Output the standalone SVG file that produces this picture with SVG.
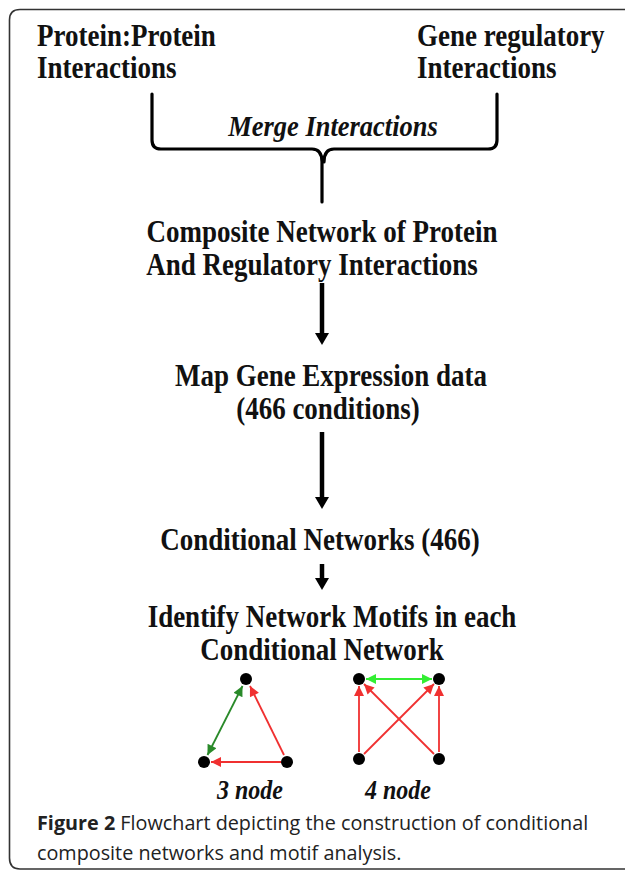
<svg xmlns="http://www.w3.org/2000/svg" width="625" height="871" viewBox="0 0 625 871">
<defs>
<style>
.h{font-family:"Liberation Serif","Times New Roman",serif;font-weight:bold;font-size:27px;fill:#111}
.hi{font-family:"Liberation Serif","Times New Roman",serif;font-weight:bold;font-style:italic;font-size:26.5px;fill:#111}
.ni{font-family:"Liberation Serif","Times New Roman",serif;font-weight:bold;font-style:italic;font-size:24px;fill:#111}
.c{font-family:"Open Sans","Noto Sans",sans-serif;font-size:19.8px;fill:#222}
.frame{fill:none;stroke:#333;stroke-width:1.6}
.br{fill:none;stroke:#000;stroke-width:3.2;stroke-linecap:round;stroke-linejoin:round}
.sh{stroke:#000;stroke-width:4.5}
.hd{fill:#000}
.red{stroke:#f03030;stroke-width:1.8;fill:none}
.dg{stroke:#2a8a2a;stroke-width:1.8;fill:none}
.lg{stroke:#33ee33;stroke-width:1.8;fill:none}
.dot{fill:#000}
</style>
<marker id="mr" viewBox="0 0 10 10" refX="10" refY="5" markerWidth="12" markerHeight="10" markerUnits="userSpaceOnUse" orient="auto-start-reverse"><path d="M0,0 L10,5 L0,10 z" fill="#f03030"/></marker>
<marker id="mdg" viewBox="0 0 10 10" refX="10" refY="5" markerWidth="12" markerHeight="10" markerUnits="userSpaceOnUse" orient="auto-start-reverse"><path d="M0,0 L10,5 L0,10 z" fill="#2a8a2a"/></marker>
<marker id="mlg" viewBox="0 0 10 10" refX="10" refY="5" markerWidth="12" markerHeight="10" markerUnits="userSpaceOnUse" orient="auto-start-reverse"><path d="M0,0 L10,5 L0,10 z" fill="#33ee33"/></marker>
</defs>
<rect width="625" height="871" fill="#fff"/>
<path class="frame" d="M640,9.5 H20 Q9.5,9.5 9.5,20 V858 Q9.5,869 20,869 H640"/>

<g id="ppi"><text class="h" transform="translate(37,46) scale(1,1.15)">Protein:Protein</text><text class="h" transform="translate(37,78) scale(1,1.15)">Interactions</text></g>
<g id="gri"><text class="h" transform="translate(417,46) scale(1,1.15)">Gene regulatory</text><text class="h" transform="translate(417,78) scale(1,1.15)">Interactions</text></g>
<g id="merge"><text class="hi" text-anchor="middle" transform="translate(333,136) scale(1,1.15)">Merge Interactions</text></g>
<g id="composite"><text class="h" text-anchor="middle" transform="translate(322,242) scale(1,1.15)">Composite Network of Protein</text><text class="h" text-anchor="middle" transform="translate(312,275) scale(1,1.15)">And Regulatory Interactions</text></g>
<g id="map"><text class="h" text-anchor="middle" transform="translate(331,386) scale(1,1.15)">Map Gene Expression data</text><text class="h" text-anchor="middle" transform="translate(328,419) scale(1,1.15)">(466 conditions)</text></g>
<g id="cond"><text class="h" text-anchor="middle" transform="translate(320,550) scale(1,1.15)">Conditional Networks (466)</text></g>
<g id="motifs"><text class="h" text-anchor="middle" transform="translate(332,627) scale(1,1.15)">Identify Network Motifs in each</text><text class="h" text-anchor="middle" transform="translate(322,660) scale(1,1.15)">Conditional Network</text></g>

<g id="connectors">
<path class="br" d="M152,94 V140 Q152,149 161,149 H312 Q322,149 322,162 V202"/>
<path class="br" d="M497,94 V140 Q497,149 488,149 H334 Q324,149 324,162"/>
<line class="sh" x1="322" y1="283" x2="322" y2="334"/>
<path class="hd" d="M315,333 H329 L322,345 z"/>
<line class="sh" x1="322" y1="432" x2="322" y2="498"/>
<path class="hd" d="M315,497 H329 L322,509 z"/>
<line class="sh" x1="322" y1="564" x2="322" y2="579"/>
<path class="hd" d="M315,578 H329 L322,590 z"/>
</g>

<g id="motif3">
<line class="dg" x1="242.5" y1="686" x2="207.5" y2="755" marker-start="url(#mdg)" marker-end="url(#mdg)"/>
<line class="red" x1="284" y1="755" x2="250" y2="686" marker-end="url(#mr)"/>
<line class="red" x1="281" y1="762" x2="211" y2="762" marker-end="url(#mr)"/>
<circle class="dot" cx="246" cy="679" r="6"/>
<circle class="dot" cx="204" cy="762" r="6"/>
<circle class="dot" cx="287" cy="762" r="6"/>
<text class="ni" text-anchor="middle" transform="translate(250,799) scale(1,1.15)">3 node</text>
</g>
<g id="motif4">
<line class="lg" x1="366" y1="679" x2="432" y2="679" marker-start="url(#mlg)" marker-end="url(#mlg)"/>
<line class="red" x1="359" y1="752" x2="359" y2="686" marker-end="url(#mr)"/>
<line class="red" x1="439" y1="752" x2="439" y2="686" marker-end="url(#mr)"/>
<line class="red" x1="364" y1="754" x2="434" y2="684" marker-end="url(#mr)"/>
<line class="red" x1="434" y1="754" x2="364" y2="684" marker-end="url(#mr)"/>
<circle class="dot" cx="359" cy="679" r="6"/>
<circle class="dot" cx="439" cy="679" r="6"/>
<circle class="dot" cx="359" cy="759" r="6"/>
<circle class="dot" cx="439" cy="759" r="6"/>
<text class="ni" text-anchor="middle" transform="translate(398,799) scale(1,1.15)">4 node</text>
</g>

<g id="caption"><text class="c" x="37" y="830"><tspan font-weight="bold">Figure 2</tspan> Flowchart depicting the construction of conditional</text><text class="c" x="37" y="860">composite networks and motif analysis.</text></g>
</svg>
